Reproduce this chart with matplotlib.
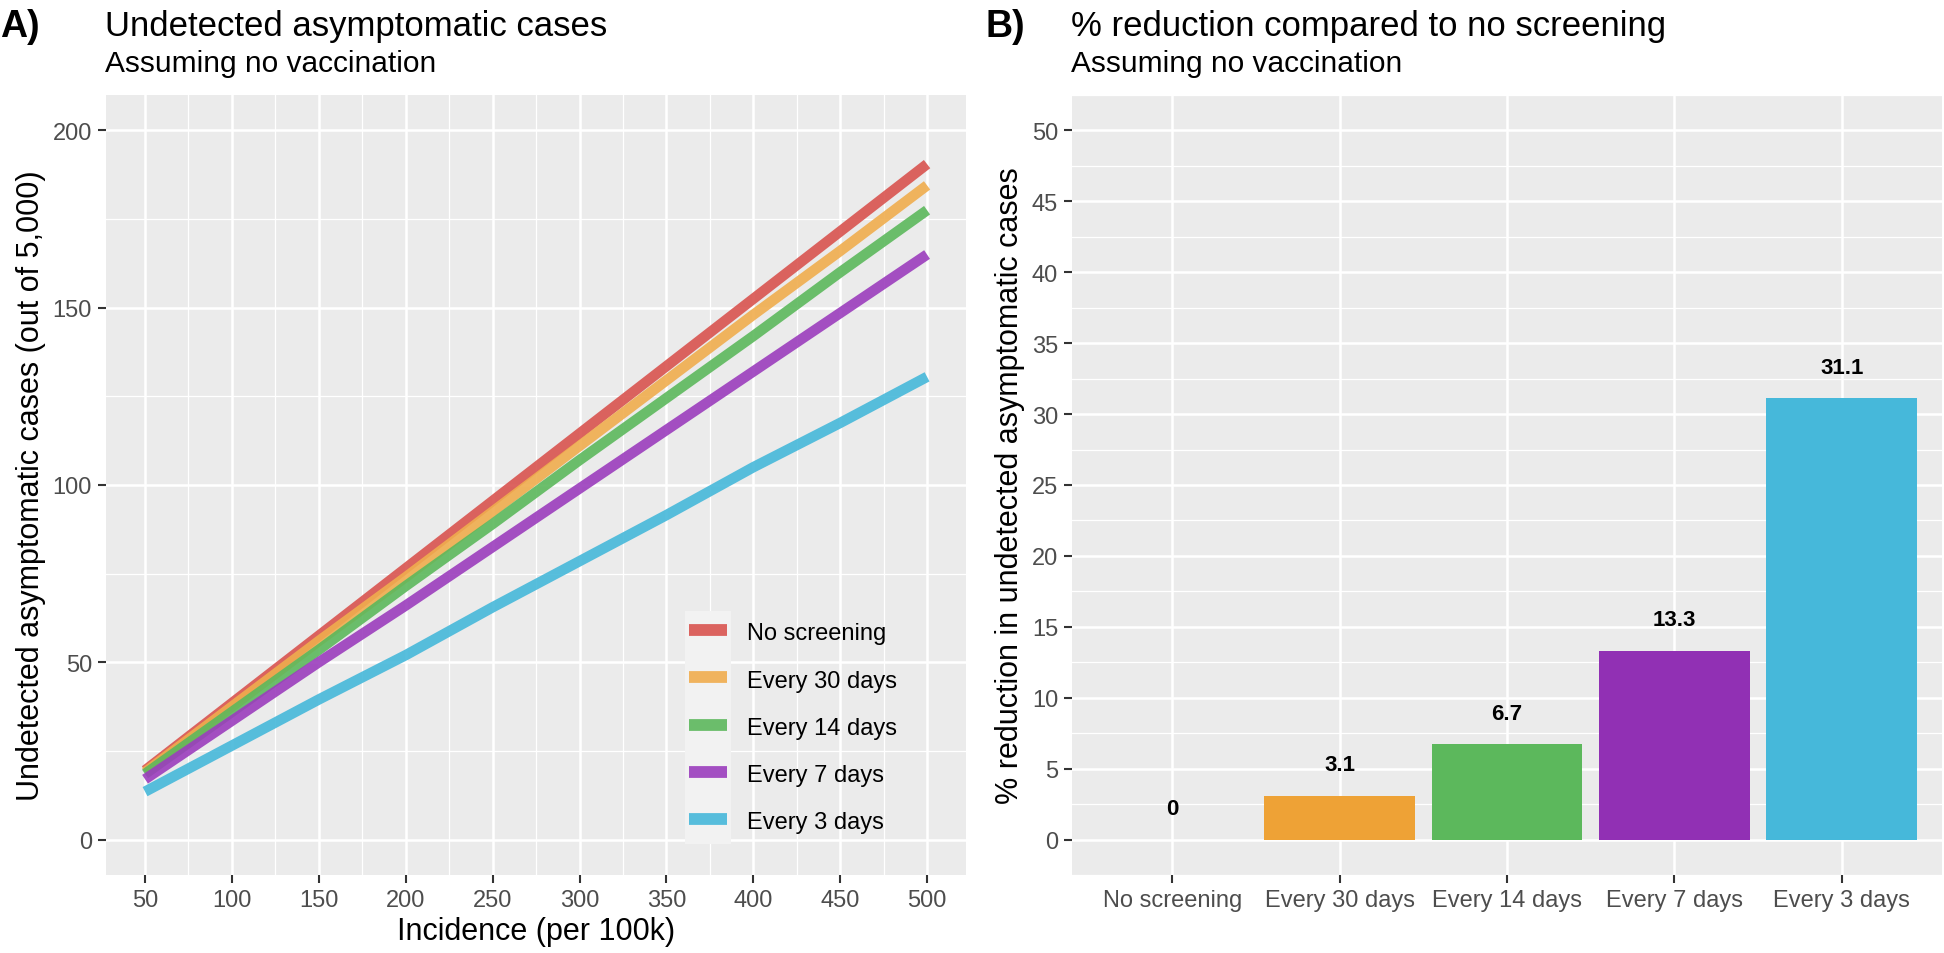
import matplotlib
matplotlib.use("Agg")
import matplotlib.pyplot as plt
from matplotlib.ticker import MultipleLocator
from matplotlib.patches import Rectangle

plt.rcParams['font.family'] = ['Liberation Sans', 'DejaVu Sans']

# panel A data: undetected asymptomatic cases by incidence
incidence = [50, 100, 150, 200, 250, 300, 350, 400, 450, 500]
no_screening = [19.5, 38.5, 57.5, 76.5, 95.5, 114.5, 133.5, 152.5, 171.5, 190.5]
every_30 = [19, 37.5, 56, 74, 92.5, 111, 129.5, 148, 166, 184.5]
every_14 = [18.5, 36, 53.5, 71.5, 89, 107, 124.5, 142, 160, 177.5]
every_7 = [17, 33.5, 50, 66, 82.5, 99, 115.5, 132, 148.5, 165]
every_3 = [13.5, 26.5, 39.5, 52, 65.5, 78.5, 91.5, 105, 117.5, 130.5]

# panel B data: % reduction compared to no screening
strategies = ['No screening', 'Every 30 days', 'Every 14 days', 'Every 7 days', 'Every 3 days']
reduction = [0, 3.1, 6.7, 13.3, 31.1]

line_colors = ['#D9534F', '#F0AD4E', '#5CB85C', '#9B3DBD', '#46B8DA']
bar_colors = ['#D9534F', '#EEA236', '#5CB85C', '#9130B4', '#46B8DA']

panel_bg = '#EBEBEB'
tick_col = '#4D4D4D'


def gg_style(ax):
    ax.set_facecolor(panel_bg)
    for s in ax.spines.values():
        s.set_visible(False)
    ax.grid(which='major', color='white', linewidth=1.8)
    ax.grid(which='minor', color='white', linewidth=0.9)
    ax.set_axisbelow(True)
    ax.tick_params(which='major', length=5.5, width=1.5, color='#333333',
                   labelcolor=tick_col, labelsize=17, pad=4.5)
    ax.tick_params(which='minor', length=0)


fig = plt.figure(figsize=(19.44, 9.54), dpi=100)

# ---- panel A
ax1 = fig.add_axes([0.0545, 0.0818, 0.4425, 0.8176])
gg_style(ax1)
series = [no_screening, every_30, every_14, every_7, every_3]
for vals, lab, col in zip(series, strategies, line_colors):
    ax1.plot(incidence, vals, color=col, linewidth=7.5, alpha=0.9,
             solid_capstyle='butt', label=lab)
ax1.set_xlim(27.5, 522.5)
ax1.set_ylim(-10, 210)
ax1.set_xticks(incidence)
ax1.set_yticks([0, 50, 100, 150, 200])
ax1.xaxis.set_minor_locator(MultipleLocator(25))
ax1.yaxis.set_minor_locator(MultipleLocator(25))
ax1.set_xlabel('Incidence (per 100k)', fontsize=22, labelpad=4)
ax1.set_ylabel('Undetected asymptomatic cases (out of 5,000)', fontsize=22, labelpad=5)

# light key background of the legend
ax1.add_patch(Rectangle((685 / 1944, 1 - 845 / 954), 46 / 1944, 233 / 954,
                        transform=fig.transFigure, facecolor='#F2F2F2',
                        edgecolor='none', zorder=1))
leg = ax1.legend(loc='upper left', bbox_to_anchor=(0.667, 0.338), borderaxespad=0,
                 fontsize=17, frameon=False, handlelength=1.6, handleheight=1.0,
                 labelspacing=1.0, handletextpad=0.85)
for h in leg.legend_handles:
    h.set_linewidth(8.5)
fig.text(0.0, 0.972, 'A)', fontsize=27, fontweight='bold', va='center')
fig.text(0.054, 0.972, 'Undetected asymptomatic cases', fontsize=25, va='center')
fig.text(0.054, 0.933, 'Assuming no vaccination', fontsize=21.5, va='center')

# ---- panel B
ax2 = fig.add_axes([0.5514, 0.0818, 0.4476, 0.8176])
gg_style(ax2)
pos = range(len(strategies))
ax2.bar(pos, reduction, width=0.9, color=bar_colors)
for p, v in zip(pos, reduction):
    ax2.text(p, v + 2.2, f'{v:g}', ha='center', va='center',
             fontsize=16, fontweight='bold')
ax2.set_xlim(-0.6, 4.6)
ax2.set_ylim(-2.5, 52.5)
ax2.set_xticks(list(pos))
ax2.set_xticklabels(strategies)
ax2.set_yticks(range(0, 51, 5))
ax2.yaxis.set_minor_locator(MultipleLocator(2.5))
ax2.set_ylabel('% reduction in undetected asymptomatic cases', fontsize=22, labelpad=5)
fig.text(0.507, 0.972, 'B)', fontsize=27, fontweight='bold', va='center')
fig.text(0.551, 0.972, '% reduction compared to no screening', fontsize=25, va='center')
fig.text(0.551, 0.933, 'Assuming no vaccination', fontsize=21.5, va='center')

fig.savefig('out.png', dpi=100)
